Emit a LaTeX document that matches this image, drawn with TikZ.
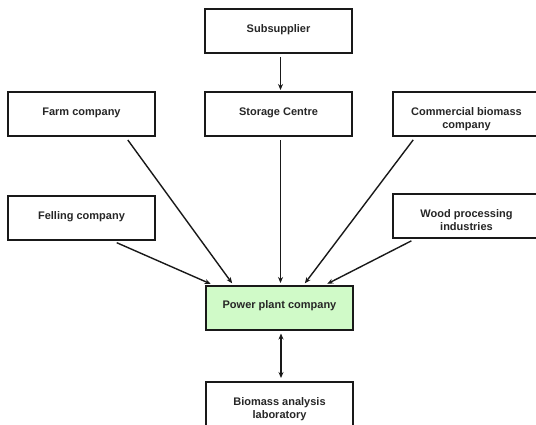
\documentclass[tikz,border=0pt]{standalone}
\usepackage{fontspec}
\setmainfont{Liberation Sans}
\usetikzlibrary{arrows.meta}
\definecolor{ppgreen}{RGB}{208,250,200}
\definecolor{boxline}{RGB}{25,25,25}
\newcommand{\oneline}[1]{\raisebox{-1.5pt}[0pt][0pt]{#1}}
\newcommand{\twoline}[2]{\raisebox{-1.5pt}[0pt][0pt]{\begin{tabular}[t]{@{}c@{}}#1\\[0.5pt]#2\end{tabular}}}
\begin{document}
\begin{tikzpicture}[x=1pt,y=-1pt,
  entity/.style={draw=boxline,line width=2pt,minimum width=147pt,minimum height=44pt,
     inner sep=0pt,align=center,font=\bfseries\fontsize{11}{12.5}\selectfont,text=black!85},
  flow/.style={line width=1.4pt,draw=boxline,-{Stealth[length=6pt,width=5pt]},
     shorten <=3pt,shorten >=1.5pt},
  biflow/.style={line width=1.4pt,draw=boxline,{Stealth[length=6pt,width=5pt]}-{Stealth[length=6pt,width=5pt]},
     shorten <=3pt,shorten >=2.5pt}]
\useasboundingbox[fill=white] (0,0) rectangle (536,425);
\node[entity] (sub) at (278.5,31) {\oneline{Subsupplier}};
\node[entity] (farm) at (81.5,114.5) {\oneline{Farm company}};
\node[entity] (stor) at (278.5,114.5) {\oneline{Storage Centre}};
\node[entity] (comm) at (466.5,114.5) {\twoline{Commercial biomass}{company}};
\node[entity] (fell) at (81.5,218.5) {\oneline{Felling company}};
\node[entity] (wood) at (466.5,216.5) {\twoline{Wood processing}{industries}};
\node[entity,fill=ppgreen] (pow) at (279.5,307.5) {\oneline{Power plant company}};
\node[entity] (lab) at (279.5,403.5) {\twoline{Biomass analysis}{laboratory}};
\draw[flow] ([xshift=2pt]sub.south) -- ([xshift=2pt]stor.north);
\draw[flow] ([xshift=-30pt]farm.south east) -- ([xshift=28pt]pow.north west);
\draw[flow] ([xshift=2pt]stor.south) -- ([xshift=1pt]pow.north);
\draw[flow] ([xshift=23pt]comm.south west) -- ([xshift=99pt]pow.north west);
\draw[flow] ([xshift=-42pt]fell.south east) -- ([xshift=7pt]pow.north west);
\draw[flow] ([xshift=22pt]wood.south west) -- ([xshift=121pt]pow.north west);
\draw[biflow] ([xshift=1.5pt]pow.south) -- ([xshift=1.5pt]lab.north);
\end{tikzpicture}
\end{document}
